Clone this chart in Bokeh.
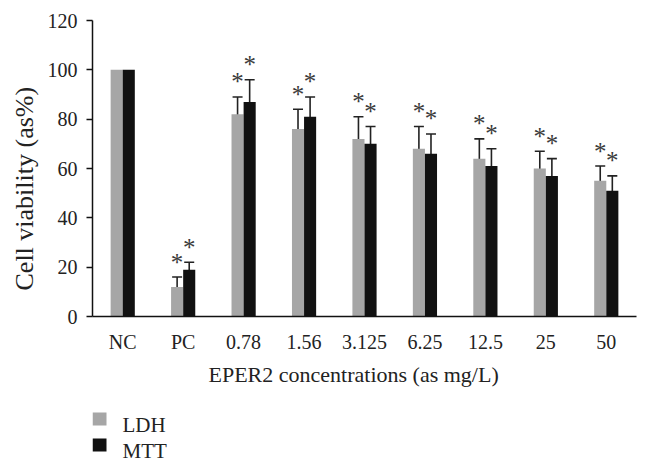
from bokeh.plotting import figure
from bokeh.layouts import column
from bokeh.models import (ColumnDataSource, FactorRange, Range1d, FixedTicker, Whisker, TeeHead,
                          Title)
from bokeh.transform import dodge
from bokeh.core.properties import value
from bokeh.embed import file_html
from bokeh.resources import INLINE

categories = ["NC", "PC", "0.78", "1.56", "3.125", "6.25", "12.5", "25", "50"]
ldh = [100, 12, 82, 76, 72, 68, 64, 60, 55]
ldh_err = [0, 4, 7, 8, 9, 9, 8, 7, 6]
mtt = [100, 19, 87, 81, 70, 66, 61, 57, 51]
mtt_err = [0, 3, 9, 8, 7, 8, 7, 7, 6]
y_ticks = [0, 20, 40, 60, 80, 100, 120]
series_names = ["LDH", "MTT"]
series_colors = ["#a6a6a6", "#111111"]

FONT = "Liberation Serif"
TXT = "#222222"
W = 650
BL, BR = 92, 14

src = ColumnDataSource(dict(cat=categories, ldh=ldh, mtt=mtt))
sig = [i for i in range(len(categories)) if ldh_err[i] > 0]
esrc = ColumnDataSource(dict(
    cat=[categories[i] for i in sig],
    ldh_up=[ldh[i] + ldh_err[i] for i in sig],
    ldh_lo=[ldh[i] - ldh_err[i] for i in sig],
    mtt_up=[mtt[i] + mtt_err[i] for i in sig],
    mtt_lo=[mtt[i] - mtt_err[i] for i in sig],
    star=["*"] * len(sig),
))

p = figure(width=W, height=400, x_range=FactorRange(*categories), y_range=Range1d(0, 120),
           output_backend="svg", toolbar_location=None,
           min_border_left=BL, min_border_right=BR, min_border_top=20, min_border_bottom=84)
p.outline_line_color = None
p.grid.visible = False

p.vbar(x=dodge("cat", -0.1, range=p.x_range), top="ldh", width=0.2, source=src,
       fill_color=series_colors[0], line_color=None)
p.vbar(x=dodge("cat", 0.1, range=p.x_range), top="mtt", width=0.2, source=src,
       fill_color=series_colors[1], line_color=None)

for off, up, lo in [(-0.1, "ldh_up", "ldh_lo"), (0.1, "mtt_up", "mtt_lo")]:
    w = Whisker(source=esrc, base=dodge("cat", off, range=p.x_range), upper=up, lower=lo,
                line_color="#222222", line_width=1.6,
                upper_head=TeeHead(size=10, line_color="#222222", line_width=1.6),
                lower_head=TeeHead(size=10, line_color="#222222", line_width=1.6))
    p.add_layout(w)
    p.text(x=dodge("cat", off, range=p.x_range), y=up, text="star", source=esrc,
           text_font=value(FONT), text_font_size="25px", text_color="#3a3a3a",
           text_align="center", text_baseline="alphabetic", y_offset=-15)

# axes
p.yaxis.ticker = FixedTicker(ticks=y_ticks)
for ax in (p.xaxis, p.yaxis):
    ax.axis_line_color = "#111111"
    ax.axis_line_width = 1.5
    ax.major_label_text_font = FONT
    ax.major_label_text_font_size = "20px"
    ax.major_label_text_color = TXT
    ax.minor_tick_line_color = None
p.yaxis.major_tick_out = 6
p.yaxis.major_tick_in = 0
p.yaxis.major_tick_line_color = "#111111"
p.yaxis.major_tick_line_width = 1.5
p.yaxis.major_label_standoff = 9
p.xaxis.major_tick_line_color = None
p.xaxis.major_tick_out = 0
p.xaxis.major_label_standoff = 14

xtitle = Title(text="EPER2 concentrations (as mg/L)", align="left", offset=116, standoff=8,
               text_font=FONT, text_font_size="22px", text_font_style="normal",
               text_color=TXT)
p.add_layout(xtitle, "below")

ytitle = Title(text="Cell viability (as%)", align="left", offset=26, standoff=12,
               text_font=FONT, text_font_size="26px", text_font_style="normal",
               text_color=TXT)
p.add_layout(ytitle, "left")

# legend strip below the chart; its frame is aligned with the chart's frame,
# so the x range is given in page pixels of that frame
LH = 66
lf = figure(width=W, height=LH, x_range=Range1d(BL, W - BR), y_range=Range1d(LH, 0),
            output_backend="svg", toolbar_location=None,
            x_axis_location=None, y_axis_location=None,
            min_border_left=BL, min_border_right=BR, min_border_top=0, min_border_bottom=0)
lf.outline_line_color = None
lf.grid.visible = False
sw_x, sw_w, sw_h = 99, 14, 13
row_y = [18.5, 44.5]
lsrc = ColumnDataSource(dict(x=[sw_x] * 2, y=row_y, color=series_colors,
                             tx=[122] * 2, ty=[r + 6 for r in row_y], name=series_names))
lf.rect(x="x", y="y", width=sw_w, height=sw_h, fill_color="color", line_color=None, source=lsrc)
lf.text(x="tx", y="ty", text="name", source=lsrc, text_font=value(FONT),
        text_font_size="21px", text_color=TXT, text_baseline="alphabetic", text_align="left")

layout = column(p, lf, spacing=0)
open("out.html", "w").write(file_html(layout, INLINE))
